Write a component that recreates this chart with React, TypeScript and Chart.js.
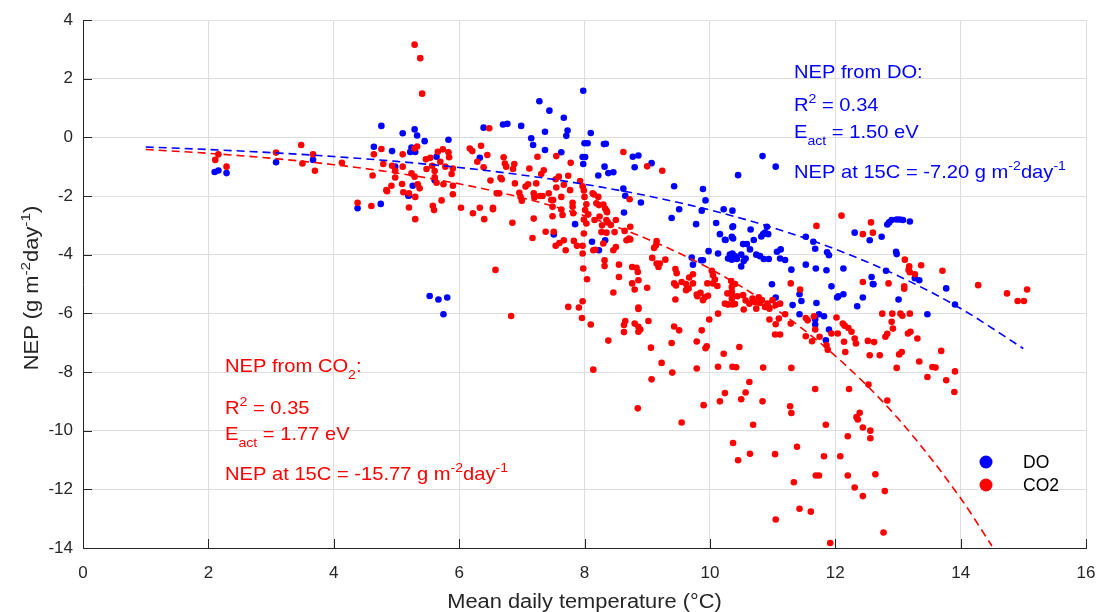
import { useEffect, useRef } from 'react';
import { Chart, registerables } from 'chart.js';

Chart.register(...registerables);

// ---- Data ----
const doTemp = [
  2.10, 2.16, 2.29, 3.08, 3.67, 4.38, 4.75, 4.76, 4.64, 4.93, 4.98, 5.10, 5.20, 5.29, 5.33, 5.45, 5.83, 6.39, 6.70, 6.77,
  6.99, 7.28, 7.44, 7.67, 7.73, 7.71, 7.37, 7.15, 7.18, 7.37, 7.63, 7.98, 8.10, 8.00, 8.05, 7.97, 8.01, 7.98, 8.31, 8.34,
  8.32, 8.38, 8.46, 8.22, 8.77, 8.86, 8.80, 9.07, 8.62, 8.65, 8.90, 8.63, 9.43, 9.51, 9.39, 9.78, 9.89, 9.93, 9.87, 10.10,
  10.22, 10.36, 10.45, 10.16, 10.24, 10.35, 10.36, 10.13, 9.98, 9.86, 9.89, 9.71, 9.73, 10.29, 10.32, 10.35, 7.85, 7.51, 8.12, 8.23,
  8.33, 5.24, 5.22, 5.30, 5.64, 6.33, 5.61, 5.26, 5.19, 5.53, 5.67, 5.81, 5.75, 10.84, 11.05, 10.37, 10.25, 10.37, 10.53, 10.59,
  10.64, 10.65, 10.70, 10.82, 10.85, 10.88, 10.93, 10.91, 11.13, 11.07, 11.12, 11.20, 10.36, 10.40, 10.43, 10.50, 10.54, 10.57, 10.50, 10.74,
  10.80, 10.86, 10.94, 11.30, 11.53, 11.69, 11.86, 12.13, 11.53, 11.65, 11.68, 11.87, 11.90, 12.31, 12.55, 12.74, 12.83, 12.86, 12.90, 12.98,
  13.03, 13.08, 13.19, 12.97, 12.98, 12.81, 12.58, 12.60, 13.34, 13.77, 13.91, 12.44, 12.35, 12.13, 12.05, 11.70, 11.46, 11.43, 11.32, 11.05,
  10.99, 11.94, 11.43, 11.74, 11.82, 11.68, 11.68, 11.90, 11.85, 12.03, 12.61, 13.01, 13.27, 13.47,
];
const doNep = [
  -1.18, -1.13, -1.22, -0.85, -0.77, -2.42, -2.27, 0.39, -0.32, -0.47, -1.00, 0.14, -1.98, 0.27, 0.06, -0.13, -0.08, 0.33, 0.44, 0.46,
  0.39, 1.23, 0.91, 0.67, 0.23, 0.05, 0.19, -0.03, -0.26, -0.43, -0.51, 1.59, 0.15, -0.20, -0.20, -0.67, -0.67, -0.91, -0.23, -0.22,
  -1.00, -1.22, -1.19, -1.30, -0.66, -0.62, -1.02, -0.88, -1.75, -1.99, -2.22, -2.56, -1.67, -2.45, -2.75, -2.96, -1.76, -2.15, -2.50, -2.92,
  -2.45, -2.50, -1.29, -3.30, -3.49, -3.39, -3.06, -3.96, -3.88, -4.19, -4.19, -4.10, -4.34, -4.13, -4.00, -4.17, -2.96, -3.31, -3.56, -3.85,
  -3.51, -0.35, -0.50, -0.50, -0.66, -0.70, -1.46, -1.65, -1.99, -5.41, -5.53, -5.46, -6.03, -0.64, -1.00, -3.03, -3.50, -3.45, -3.64, -3.64,
  -3.82, -3.14, -3.50, -3.38, -3.30, -3.25, -3.30, -3.05, -3.82, -3.90, -4.13, -4.18, -3.96, -4.05, -4.15, -4.00, -4.22, -4.13, -4.40, -4.00,
  -4.05, -4.15, -4.15, -4.51, -4.34, -4.47, -4.53, -4.47, -3.39, -3.56, -3.80, -3.92, -4.02, -3.25, -3.51, -3.39, -2.97, -2.90, -2.82, -2.80,
  -2.80, -2.82, -2.87, -3.90, -3.98, -4.55, -4.76, -5.00, -4.87, -5.15, -5.70, -5.46, -5.76, -5.35, -5.42, -5.65, -5.58, -5.35, -5.72, -5.46,
  -5.01, -5.08, -6.03, -6.03, -6.10, -6.20, -6.38, -6.55, -6.92, -5.46, -5.01, -5.53, -4.80, -6.03,
];

const co2Temp = [
  2.16, 2.11, 2.29, 3.08, 3.48, 3.50, 3.67, 3.70, 4.13, 4.38, 4.60, 4.62, 4.76, 4.64, 4.79, 4.93, 4.98, 4.98, 4.92, 4.84,
  4.85, 5.10, 5.10, 5.09, 5.11, 5.20, 5.20, 5.30, 5.29, 5.38, 5.41, 5.29, 5.33, 5.24, 5.29, 5.30, 5.37, 5.34, 5.47, 5.54,
  5.48, 5.57, 5.61, 5.66, 5.74, 5.70, 5.78, 5.83, 5.84, 5.90, 5.88, 5.61, 5.64, 5.75, 5.90, 5.90, 5.72, 5.58, 5.60, 6.03,
  6.17, 6.21, 6.35, 6.45, 6.29, 6.39, 6.50, 6.60, 6.64, 6.66, 6.68, 6.71, 6.73, 6.75, 6.88, 6.86, 6.54, 6.54, 6.33, 6.22,
  6.40, 6.85, 6.58, 6.48, 6.89, 6.96, 6.98, 7.00, 7.12, 7.06, 7.10, 7.19, 7.20, 7.25, 7.31, 7.35, 7.23, 7.29, 7.33, 7.19,
  7.17, 7.38, 7.43, 7.47, 7.50, 7.49, 7.49, 7.55, 7.59, 7.54, 7.55, 7.63, 7.63, 7.67, 7.74, 7.77, 7.78, 7.81, 7.81, 7.82,
  7.65, 7.51, 7.54, 7.60, 7.67, 7.83, 7.70, 7.88, 7.97, 7.97, 7.98, 8.04, 7.97, 7.74, 7.91, 7.93, 7.97, 7.99, 8.00, 8.03,
  8.01, 7.99, 8.03, 8.06, 7.99, 8.13, 8.15, 8.19, 8.22, 8.23, 8.16, 8.24, 8.28, 8.30, 8.33, 8.35, 8.36, 8.35, 8.37, 8.27,
  8.35, 8.42, 8.50, 8.48, 8.14, 8.17, 8.30, 8.46, 8.50, 8.32, 8.32, 8.55, 8.55, 8.46, 8.62, 8.72, 9.00, 9.24, 8.64, 8.73,
  8.67, 8.71, 8.73, 8.76, 8.83, 8.85, 8.86, 8.76, 8.80, 9.00, 8.86, 9.08, 9.15, 9.18, 9.20, 9.29, 9.11, 9.15, 9.14, 9.45,
  9.47, 9.43, 9.46, 9.55, 9.62, 9.62, 9.66, 9.73, 9.73, 9.79, 9.80, 9.85, 9.89, 9.92, 9.97, 10.03, 10.05, 10.05, 10.12, 10.08,
  9.96, 9.45, 9.67, 10.28, 10.35, 10.34, 10.35, 10.35, 6.83, 7.96, 8.10, 8.14, 8.38, 8.63, 8.63, 8.65, 8.80, 8.86, 8.86, 8.89,
  9.02, 8.86, 9.06, 9.07, 9.23, 9.39, 9.40, 9.43, 9.51, 9.55, 9.79, 9.87, 9.93, 9.95, 9.79, 9.90, 9.99, 10.13, 10.22, 10.13,
  10.36, 10.42, 10.24, 10.16, 10.37, 10.45, 10.29, 10.40, 8.85, 10.47, 10.63, 10.57, 10.50, 10.84, 10.85, 10.69, 10.64, 11.04, 11.05, 11.30,
  11.28, 11.30, 11.39, 11.34, 11.43, 11.61, 11.68, 11.69, 11.74, 11.82, 11.85, 11.92, 12.08, 12.20, 12.20, 12.22, 12.31, 12.34, 12.36, 12.39,
  12.44, 12.44, 12.53, 12.56, 12.56, 12.64, 12.79, 12.77, 12.83, 10.24, 10.36, 10.28, 10.35, 10.40, 10.44, 10.53, 10.57, 10.54, 10.63, 10.68,
  10.72, 10.74, 10.78, 10.80, 10.83, 10.88, 10.92, 10.95, 11.00, 11.05, 11.12, 11.20, 11.29, 10.95, 11.10, 11.05, 11.04, 11.12, 11.29, 11.53,
  11.56, 11.66, 11.68, 11.53, 11.63, 11.75, 11.86, 11.88, 11.94, 12.02, 12.04, 12.12, 12.15, 12.14, 12.21, 12.26, 12.31, 12.33, 12.16, 12.52,
  12.55, 12.62, 12.71, 12.80, 12.83, 12.90, 12.92, 12.91, 12.75, 12.98, 13.02, 13.06, 13.04, 13.07, 13.19, 13.16, 13.20, 13.31, 13.34, 13.47,
  13.55, 13.60, 13.69, 13.77, 13.90, 13.91, 12.44, 12.85, 13.10, 13.10, 14.28, 14.74, 14.91, 15.01, 15.06, 12.10, 11.70, 12.57, 12.44, 12.60,
  13.11, 13.18, 13.17, 13.19, 13.37, 13.27, 13.71, 11.44,
];
const co2Nep = [
  -0.58, -0.77, -1.00, -0.52, -0.26, -0.89, -0.58, -1.14, -0.87, -2.23, -2.34, -1.30, -0.40, -0.58, -0.91, -0.97, -1.14, -1.37, -1.65, -1.80,
  -1.84, -0.58, -1.00, -1.59, -1.87, -1.91, -2.39, -2.79, 3.16, 2.70, 1.49, -0.38, -0.31, -1.23, -1.34, -2.03, -1.74, -1.60, -0.75, -0.70,
  -1.08, -0.97, -1.15, -0.49, -0.41, -0.83, -1.00, -0.51, -0.68, -1.06, -1.25, -1.36, -1.55, -1.60, -1.65, -1.94, -2.15, -2.33, -2.48, -2.40,
  -0.38, -0.47, -0.29, -0.60, -0.83, -1.02, -1.47, -1.91, -1.91, -1.38, -1.43, -0.68, -0.89, -1.00, -0.91, -1.08, -2.40, -2.45, -2.40, -2.59,
  -2.79, -2.91, -4.52, 0.31, -1.57, -1.89, -2.03, -2.16, -1.06, -1.68, -1.60, -1.91, -2.05, -0.66, -1.25, -1.12, -1.57, -2.00, -2.00, -2.77,
  -3.43, -3.22, -1.91, -2.14, -2.14, -2.37, -2.69, -0.64, -1.34, -1.43, -1.71, -2.03, -2.46, -1.62, -1.31, -1.80, -0.87, -2.23, -2.37, -2.59,
  -2.65, -3.22, -3.70, -3.60, -3.51, -3.53, -3.85, -3.70, -3.70, -3.96, -4.47, -4.84, -5.59, -5.78, -5.80, -1.49, -1.67, -1.81, -2.03, -2.28,
  -2.48, -2.80, -2.94, -2.62, -3.28, -1.91, -1.95, -2.25, -2.03, -2.31, -2.82, -2.70, -3.00, -2.29, -2.43, -2.50, -2.55, -2.82, -2.90, -3.23,
  -3.25, -2.99, -2.82, -3.23, -3.85, -3.83, -3.62, -3.85, -3.74, -4.19, -4.39, -4.34, -4.76, -5.29, -0.50, -2.11, -0.99, -1.14, -3.19, -3.05,
  -3.51, -3.45, -3.48, -4.42, -4.45, -4.59, -4.87, -4.98, -5.19, -5.13, -5.80, -4.11, -4.30, -4.42, -4.30, -4.17, -3.77, -3.54, -3.68, -4.49,
  -4.63, -4.98, -5.05, -4.93, -5.00, -5.21, -5.15, -4.67, -4.98, -5.36, -5.42, -5.30, -5.55, -5.45, -5.40, -4.55, -4.70, -4.98, -5.07, -4.85,
  -4.98, -5.53, -4.78, -5.69, -5.10, -4.90, -5.32, -5.50, -6.09, -6.16, -6.38, -7.92, -6.93, -6.64, -6.40, -6.26, -6.35, -6.46, -6.63, -6.55,
  -6.26, -5.85, -7.17, -8.25, -7.69, -7.01, -8.02, -6.45, -6.58, -9.72, -6.96, -6.58, -7.19, -7.12, -7.88, -9.13, -6.21, -6.01, -7.38, -7.82,
  -7.82, -7.84, -8.72, -9.00, -10.42, -11.01, -5.70, -5.68, -9.24, -7.15, -8.34, -8.70, -8.93, -9.00, -7.85, -9.80, -10.79, -10.80, -13.03, -7.86,
  -9.17, -9.40, -10.55, -11.76, -12.66, -12.76, -8.58, -11.53, -11.53, -10.87, -9.80, -13.83, -10.87, -10.19, -11.53, -8.58, -11.94, -9.54, -9.62, -9.39,
  -9.89, -12.23, -8.43, -10.26, -10.00, -11.49, -12.06, -13.47, -8.97, -5.67, -5.70, -5.32, -5.27, -5.00, -5.42, -5.38, -5.56, -5.87, -5.67, -5.50,
  -5.62, -5.84, -5.45, -5.65, -5.55, -5.78, -5.67, -5.84, -5.55, -5.72, -5.67, -6.03, -4.98, -6.21, -6.18, -6.37, -6.72, -6.72, -6.35, -6.16,
  -6.24, -6.10, -6.55, -6.78, -6.95, -6.80, -7.09, -7.24, -6.69, -6.14, -6.69, -6.35, -6.42, -6.97, -6.50, -6.63, -6.86, -7.03, -7.32, -6.94,
  -7.43, -6.98, -7.43, -6.80, -6.70, -6.29, -6.52, -6.01, -6.01, -7.86, -7.40, -7.32, -6.01, -6.08, -6.01, -6.69, -6.63, -6.86, -7.64, -8.17,
  -7.83, -7.85, -7.28, -8.28, -8.68, -7.98, -4.93, -4.98, -5.08, -5.16, -5.04, -5.32, -5.58, -5.58, -5.19, -2.67, -3.02, -2.90, -3.30, -3.25,
  -4.17, -4.40, -4.52, -4.60, -4.36, -4.67, -4.55, -5.19,
];

// Fitted Arrhenius curves
const fitTempDO = [1, 2, 3, 4, 5, 6, 7, 8, 9, 10, 11, 12, 13, 14, 15];
const fitNepDO = [-0.33, -0.415, -0.521, -0.655, -0.82, -1.027, -1.283, -1.6, -1.993, -2.477, -3.076, -3.813, -4.72, -5.834, -7.2];
const fitTempCO2 = [1, 2, 3, 4, 5, 6, 7, 8, 9, 10, 11, 12, 13, 14, 14.5];
const fitNepCO2 = [-0.414, -0.544, -0.712, -0.932, -1.216, -1.584, -2.059, -2.673, -3.464, -4.478, -5.781, -7.449, -9.581, -12.302, -13.93];

const xTickValues = [0, 2, 4, 6, 8, 10, 12, 14, 16];
const yTickValues = [-14, -12, -10, -8, -6, -4, -2, 0, 2, 4];

const seriesNames = ['DO', 'CO2'];
const BLUE = '#0000ff';
const RED = '#ff0000';
const AXIS = '#262626';
const FONT = '"Liberation Sans", Arial, Helvetica, sans-serif';

type Seg = { t: string; k?: 'sup' | 'sub' };

function segFont(size: number, k?: string) {
  return `${k ? size * 0.7 : size}px ${FONT}`;
}
function measureRich(ctx: CanvasRenderingContext2D, segs: Seg[], size: number) {
  let w = 0;
  for (const s of segs) {
    ctx.font = segFont(size, s.k);
    w += ctx.measureText(s.t).width;
  }
  return w;
}
function drawRich(
  ctx: CanvasRenderingContext2D,
  x: number,
  y: number,
  segs: Seg[],
  size: number,
  color: string,
  align: 'left' | 'center' = 'left',
  sx = 1
) {
  ctx.save();
  ctx.translate(x, y);
  ctx.scale(sx, 1);
  ctx.fillStyle = color;
  ctx.textBaseline = 'alphabetic';
  ctx.textAlign = 'left';
  const w = measureRich(ctx, segs, size);
  let cx = align === 'center' ? -w / 2 : 0;
  for (const s of segs) {
    ctx.font = segFont(size, s.k);
    const dy = s.k === 'sup' ? -size * 0.42 : s.k === 'sub' ? size * 0.36 : 0;
    ctx.fillText(s.t, cx, dy);
    cx += ctx.measureText(s.t).width;
  }
  ctx.restore();
}

const overlayPlugin = {
  id: 'overlay',
  afterDraw(chart: any) {
    const ctx: CanvasRenderingContext2D = chart.ctx;
    const xs = chart.scales.x;
    const ys = chart.scales.y;
    const area = chart.chartArea;

    // inward tick marks
    ctx.save();
    ctx.strokeStyle = AXIS;
    ctx.lineWidth = 1;
    ctx.beginPath();
    for (const v of xTickValues) {
      const px = Math.round(xs.getPixelForValue(v)) + 0.5;
      ctx.moveTo(px, area.bottom);
      ctx.lineTo(px, area.bottom - 9);
    }
    for (const v of yTickValues) {
      const py = Math.round(ys.getPixelForValue(v)) + 0.5;
      ctx.moveTo(area.left, py);
      ctx.lineTo(area.left + 9, py);
    }
    ctx.stroke();
    ctx.restore();

    // annotations
    const aSize = 19;
    const aSx = 1.06;
    drawRich(ctx, 794, 78, [{ t: 'NEP from DO:' }], aSize, BLUE, 'left', aSx);
    drawRich(ctx, 794, 110.5, [{ t: 'R' }, { t: '2', k: 'sup' }, { t: ' = 0.34' }], aSize, BLUE, 'left', aSx);
    drawRich(ctx, 794, 138, [{ t: 'E' }, { t: 'act', k: 'sub' }, { t: ' = 1.50 eV' }], aSize, BLUE, 'left', aSx);
    drawRich(
      ctx, 794, 178,
      [{ t: 'NEP at 15C = -7.20 g m' }, { t: '-2', k: 'sup' }, { t: 'day' }, { t: '-1', k: 'sup' }],
      aSize, BLUE, 'left', aSx
    );
    drawRich(ctx, 225, 372, [{ t: 'NEP from CO' }, { t: '2', k: 'sub' }, { t: ':' }], aSize, RED, 'left', aSx);
    drawRich(ctx, 225, 414, [{ t: 'R' }, { t: '2', k: 'sup' }, { t: ' = 0.35' }], aSize, RED, 'left', aSx);
    drawRich(ctx, 225, 440, [{ t: 'E' }, { t: 'act', k: 'sub' }, { t: ' = 1.77 eV' }], aSize, RED, 'left', aSx);
    drawRich(
      ctx, 225, 480,
      [{ t: 'NEP at 15C = -15.77 g m' }, { t: '-2', k: 'sup' }, { t: 'day' }, { t: '-1', k: 'sup' }],
      aSize, RED, 'left', aSx
    );

    // axis titles
    drawRich(ctx, 584.5, 608, [{ t: 'Mean daily temperature (°C)' }], 19.5, AXIS, 'center', 1.12);
    ctx.save();
    ctx.translate(38, 288);
    ctx.rotate(-Math.PI / 2);
    drawRich(
      ctx, 0, 0,
      [{ t: 'NEP (g m' }, { t: '-2', k: 'sup' }, { t: 'day' }, { t: '-1', k: 'sup' }, { t: ')' }],
      19.5, AXIS, 'center', 1.12
    );
    ctx.restore();

    // legend
    const legendColors = [BLUE, RED];
    const legendY = [462, 485];
    seriesNames.forEach((name, i) => {
      ctx.save();
      ctx.fillStyle = legendColors[i];
      ctx.beginPath();
      ctx.arc(986, legendY[i], 6.5, 0, Math.PI * 2);
      ctx.fill();
      ctx.fillStyle = '#000000';
      ctx.font = `17.5px ${FONT}`;
      ctx.textBaseline = 'middle';
      ctx.textAlign = 'left';
      ctx.fillText(name, 1023, legendY[i] + 1);
      ctx.restore();
    });
  },
};

export default function App() {
  const canvasRef = useRef<HTMLCanvasElement | null>(null);

  useEffect(() => {
    document.body.style.margin = '0';
    const canvas = canvasRef.current;
    if (!canvas) return;

    const doPts = doTemp.map((t, i) => ({ x: t, y: doNep[i] }));
    const co2Pts = co2Temp.map((t, i) => ({ x: t, y: co2Nep[i] }));
    const fitDO = fitTempDO.map((t, i) => ({ x: t, y: fitNepDO[i] }));
    const fitCO2 = fitTempCO2.map((t, i) => ({ x: t, y: fitNepCO2[i] }));

    const chart = new Chart(canvas, {
      type: 'scatter',
      data: {
        datasets: [
          {
            type: 'line',
            label: 'DO fit',
            data: fitDO,
            borderColor: BLUE,
            borderWidth: 1.6,
            borderDash: [8, 5],
            pointRadius: 0,
            fill: false,
            cubicInterpolationMode: 'monotone',
            order: 0,
          } as any,
          {
            type: 'line',
            label: 'CO2 fit',
            data: fitCO2,
            borderColor: RED,
            borderWidth: 1.6,
            borderDash: [8, 5],
            pointRadius: 0,
            fill: false,
            cubicInterpolationMode: 'monotone',
            order: 1,
          } as any,
          {
            label: seriesNames[1],
            data: co2Pts,
            backgroundColor: RED,
            borderWidth: 0,
            pointRadius: 3.3,
            order: 2,
          },
          {
            label: seriesNames[0],
            data: doPts,
            backgroundColor: BLUE,
            borderWidth: 0,
            pointRadius: 3.3,
            order: 3,
          },
        ],
      },
      options: {
        responsive: false,
        animation: false,
        devicePixelRatio: 1,
        layout: { padding: { top: 20, right: 13, left: 0, bottom: 0 } },
        plugins: {
          legend: { display: false },
          tooltip: { enabled: false },
          title: { display: false },
        },
        scales: {
          x: {
            type: 'linear',
            min: 0,
            max: 16,
            afterBuildTicks: (s: any) => {
              s.ticks = xTickValues.map((v) => ({ value: v }));
            },
            afterFit: (s: any) => {
              s.height = 64;
              s.paddingLeft = 0;
              s.paddingRight = 0;
            },
            ticks: {
              font: { family: FONT, size: 17 },
              color: AXIS,
              padding: 15,
              maxRotation: 0,
              autoSkip: false,
            },
            grid: { color: '#dedede', drawTicks: false, tickLength: 0, lineWidth: 1 },
            border: { color: AXIS, width: 1 },
          },
          y: {
            type: 'linear',
            min: -14,
            max: 4,
            afterBuildTicks: (s: any) => {
              s.ticks = yTickValues.map((v) => ({ value: v }));
            },
            afterFit: (s: any) => {
              s.width = 83;
              s.paddingTop = 0;
              s.paddingBottom = 0;
            },
            ticks: {
              font: { family: FONT, size: 17 },
              color: AXIS,
              padding: 10,
              autoSkip: false,
            },
            grid: { color: '#dedede', drawTicks: false, tickLength: 0, lineWidth: 1 },
            border: { color: AXIS, width: 1 },
          },
        },
      },
      plugins: [overlayPlugin],
    });

    return () => {
      chart.destroy();
    };
  }, []);

  return (
    <div style={{ width: 1099, height: 612, position: 'relative' }}>
      <canvas ref={canvasRef} width={1099} height={612} style={{ display: 'block' }} />
    </div>
  );
}
